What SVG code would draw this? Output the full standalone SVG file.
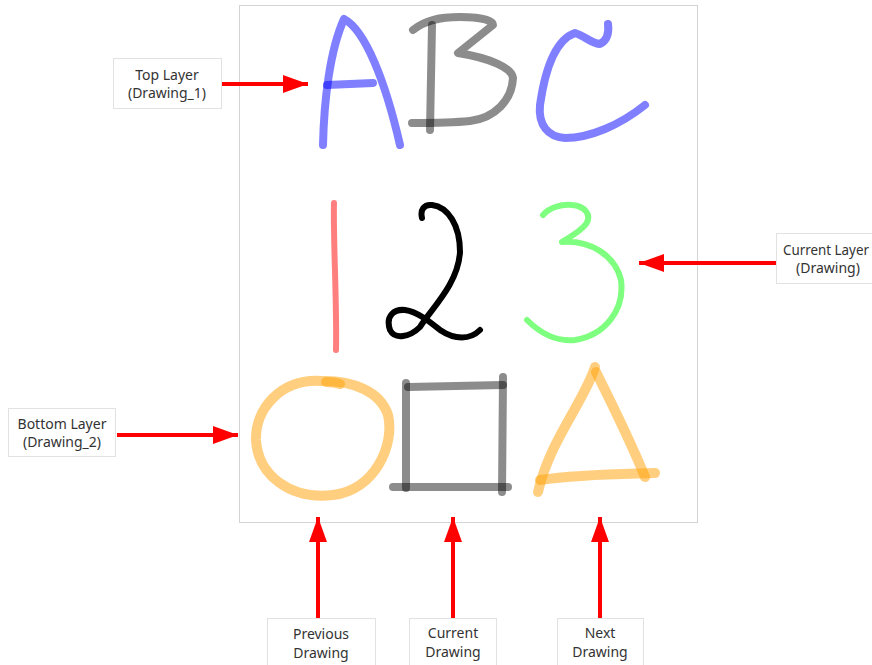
<svg xmlns="http://www.w3.org/2000/svg" width="872" height="665" viewBox="0 0 872 665">
<style>
.lbl{fill:#fff;stroke:#e2e2e2;stroke-width:1}
.t{font-family:"Noto Sans","Liberation Sans",sans-serif;font-size:14px;fill:#333;text-anchor:middle}
.arr{stroke:#ff0000;stroke-width:4;fill:none;marker-end:url(#ah)}
.br{fill:none;stroke-linecap:round;stroke-linejoin:round}
.blue{stroke:#0000ff;stroke-opacity:0.5;stroke-width:8}
.gray{stroke:#000;stroke-opacity:0.45;stroke-width:8}
.org{stroke:#ffa000;stroke-opacity:0.5;stroke-width:10}
</style>
<defs>
<marker id="ah" markerUnits="userSpaceOnUse" markerWidth="25" markerHeight="18" refX="25" refY="9" orient="auto">
<path d="M0,0 L25,9 L0,18 z" fill="#ff0000"/>
</marker>
</defs>
<rect x="0" y="0" width="872" height="665" fill="#fff"/>
<g id="canvas">
<rect x="239.5" y="5.5" width="458" height="517" fill="#fff" stroke="#d4d4d4" stroke-width="1"/>
</g>
<g id="abc">
<path class="br blue" d="M323,145 C324,100 330,50 344,19 C365,30 385,80 400,145"/>
<path class="br blue" d="M327,85 L373,83"/>
<path class="br gray" d="M432,25 L430,130"/>
<path class="br gray" d="M413,30 C425,20 440,17 460,17 C480,17 493,20 493,25 L458,53 C490,58 512,68 513,78 C512,100 495,118 470,121 C450,123 428,123 412,123"/>
<path class="br blue" d="M608,24 C609,32 608,40 600,44 C592,44 585,36 575,33 C555,40 545,70 540,105 C538,125 548,137 565,138 C590,138 620,125 645,105"/>
</g>
<g id="n123">
<path class="br" stroke="#ff0000" stroke-opacity="0.5" stroke-width="6" d="M334,203 C333,240 337,300 336,350"/>
<path class="br" stroke="#000" stroke-width="6" d="M422,218 C420,210 424,204 432,205 C448,207 460,225 460,252 C458,285 430,310 420,327 C410,337 395,340 390,330 C385,315 395,309 405,310 C418,312 430,322 440,330 C455,340 470,340 480,330"/>
<path class="br" stroke="#00ff00" stroke-opacity="0.5" stroke-width="6" d="M543,215 C550,207 562,204 572,205 C585,206 592,215 586,224 C580,232 568,238 562,242 C590,240 615,255 621,280 C625,310 605,335 575,340 C555,342 540,333 527,320"/>
</g>
<g id="shapes">
<path class="br org" d="M325,381 C350,381 380,390 388,415 C395,445 375,490 333,495 C290,500 258,475 256,440 C255,410 280,378 322,381"/>
<path class="br org" stroke-width="5" stroke-opacity="0.3" d="M326,382 C332,382 337,383 340,384"/>
<path class="br gray" stroke-width="7" d="M406,383 L406,488"/>
<path class="br gray" stroke-width="7" d="M408,387 L503,385"/>
<path class="br gray" stroke-width="7" d="M503,377 L502,492"/>
<path class="br gray" stroke-width="7" d="M393,487 L508,487"/>
<path class="br org" stroke-width="8" d="M595,367 C585,400 550,440 538,492"/>
<path class="br org" stroke-width="8" d="M596,372 C615,410 630,440 645,477"/>
<path class="br org" stroke-width="8" d="M540,480 C580,474 620,474 655,473"/>
</g>
<g id="connectors">
<line class="arr" x1="222" y1="84" x2="308" y2="84"/>
<line class="arr" x1="776" y1="263" x2="639" y2="263"/>
<line class="arr" x1="117" y1="435" x2="238" y2="435"/>
<line class="arr" x1="318" y1="619" x2="318" y2="517"/>
<line class="arr" x1="453" y1="619" x2="453" y2="517"/>
<line class="arr" x1="600" y1="619" x2="600" y2="517"/>
</g>
<g id="top-layer">
<rect class="lbl" x="113.5" y="58.5" width="108" height="50"/>
<text class="t" x="167" y="80">Top Layer</text>
<text class="t" x="167" y="98">(Drawing_1)</text>
</g>
<g id="current-layer">
<rect class="lbl" x="776.5" y="233.5" width="110" height="50"/>
<text class="t" x="783" y="255" style="text-anchor:start" textLength="86" lengthAdjust="spacingAndGlyphs">Current Layer</text>
<text class="t" x="828" y="273">(Drawing)</text>
</g>
<g id="bottom-layer">
<rect class="lbl" x="8.5" y="408.5" width="107" height="48"/>
<text class="t" x="62" y="429">Bottom Layer</text>
<text class="t" x="62" y="447">(Drawing_2)</text>
</g>
<g id="previous-drawing">
<rect class="lbl" x="267.5" y="618.5" width="108" height="52"/>
<text class="t" x="321" y="639">Previous</text>
<text class="t" x="321" y="658">Drawing</text>
</g>
<g id="current-drawing">
<rect class="lbl" x="409.5" y="618.5" width="87" height="52"/>
<text class="t" x="453" y="638">Current</text>
<text class="t" x="453" y="657">Drawing</text>
</g>
<g id="next-drawing">
<rect class="lbl" x="557.5" y="618.5" width="86" height="52"/>
<text class="t" x="600" y="638">Next</text>
<text class="t" x="600" y="657">Drawing</text>
</g>
</svg>
